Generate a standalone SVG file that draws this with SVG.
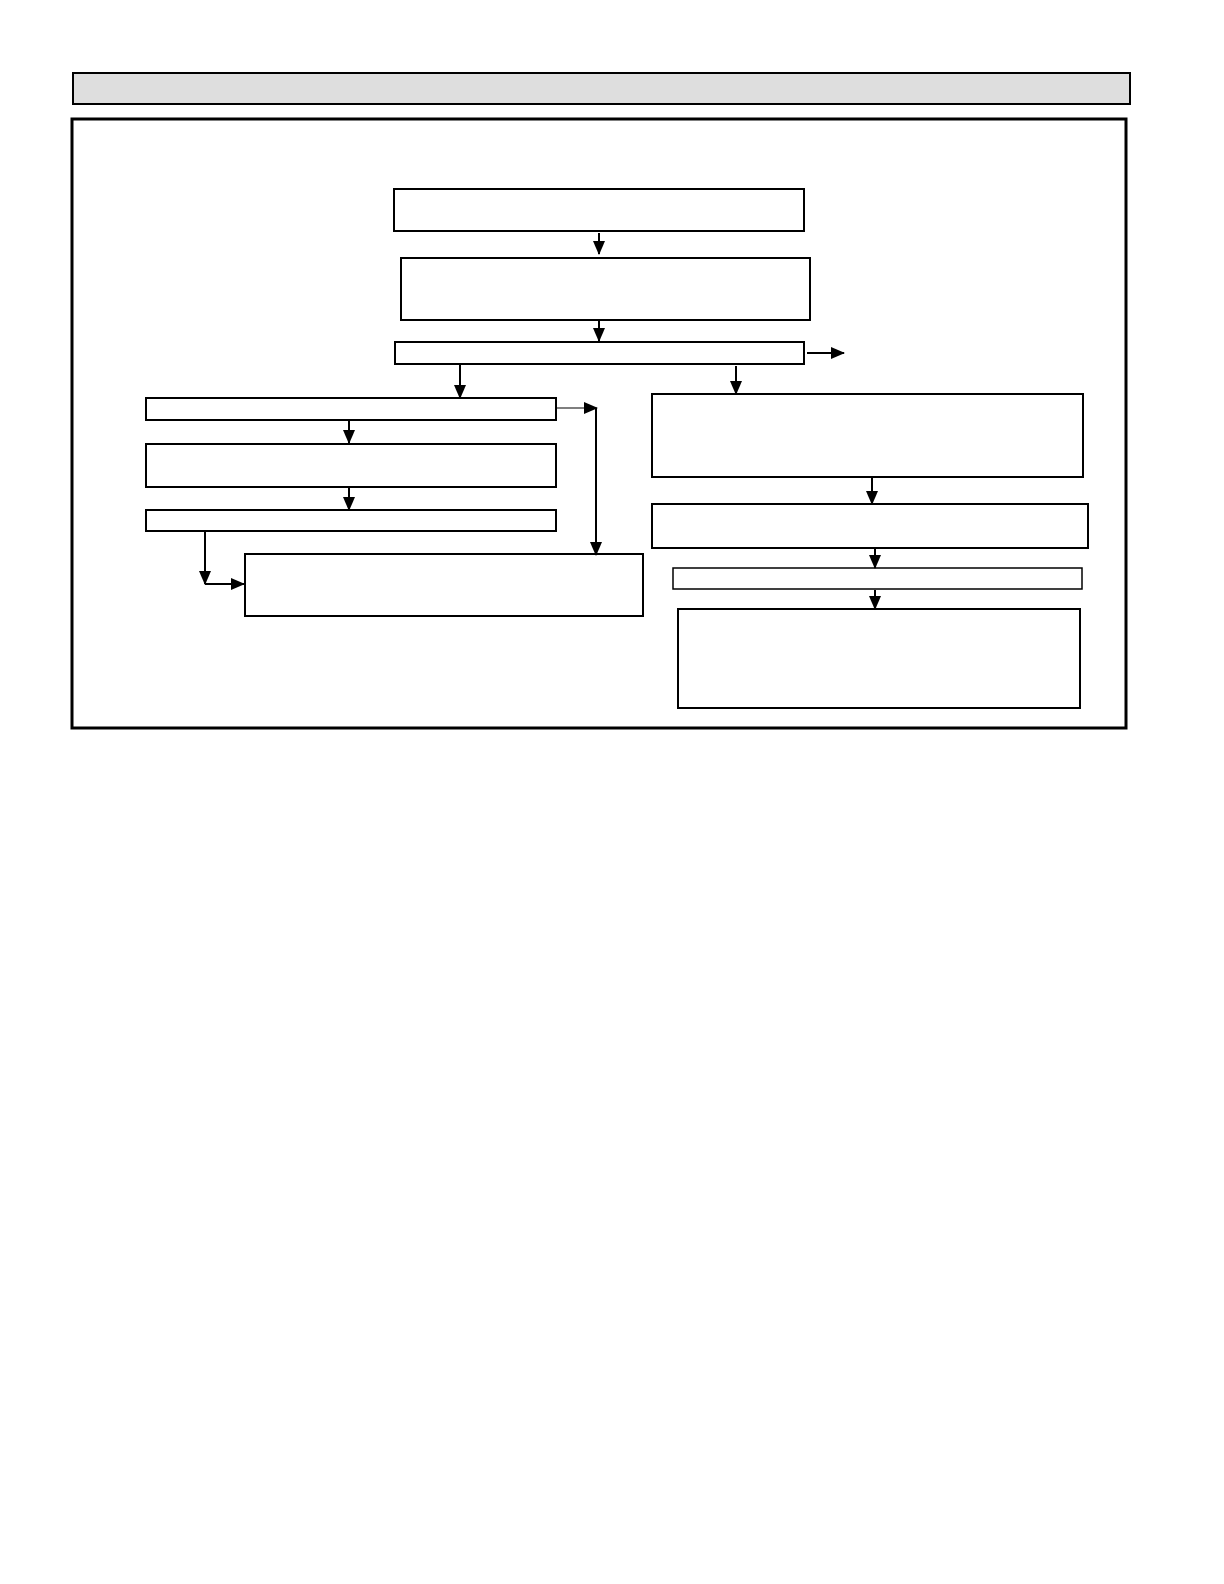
<svg xmlns="http://www.w3.org/2000/svg" width="1224" height="1584" viewBox="0 0 1224 1584">
<style>
.box{fill:#fff;stroke:#000;stroke-width:2}
.thin{fill:#fff;stroke:#000;stroke-width:1.5}
.con{fill:none;stroke:#000;stroke-width:2}
.con1{fill:none;stroke:#000;stroke-width:1.2}
</style>
<defs>
<marker id="ah" markerUnits="userSpaceOnUse" markerWidth="14" markerHeight="12" viewBox="0 0 14 12" refX="13" refY="6" orient="auto">
<path d="M0,0 L14,6 L0,12 Z" fill="#000"/>
</marker>
</defs>
<rect width="1224" height="1584" fill="#fff"/>
<g id="header"><rect x="73" y="73" width="1057" height="31" fill="#dedede" stroke="#000" stroke-width="2"/></g>
<g id="frame"><rect x="72" y="119" width="1054" height="609" fill="none" stroke="#000" stroke-width="3"/></g>
<g id="nodeA"><rect class="box" x="394" y="189" width="410" height="42"/></g>
<g id="nodeB"><rect class="box" x="401" y="258" width="409" height="62"/></g>
<g id="nodeC"><rect class="box" x="395" y="342" width="409" height="22"/></g>
<g id="nodeD"><rect class="box" x="146" y="398" width="410" height="22"/></g>
<g id="nodeE"><rect class="box" x="146" y="444" width="410" height="43"/></g>
<g id="nodeF"><rect class="box" x="146" y="510" width="410" height="21"/></g>
<g id="nodeG"><rect class="box" x="245" y="554" width="398" height="62"/></g>
<g id="nodeH"><rect class="box" x="652" y="394" width="431" height="83"/></g>
<g id="nodeI"><rect class="box" x="652" y="504" width="436" height="44"/></g>
<g id="nodeJ"><rect class="thin" x="673" y="568" width="409" height="21"/></g>
<g id="nodeK"><rect class="box" x="678" y="609" width="402" height="99"/></g>
<g id="connectors">
<path class="con" d="M599,233 V254" marker-end="url(#ah)"/>
<path class="con" d="M599,321 V341" marker-end="url(#ah)"/>
<path class="con" d="M807,353 H844" marker-end="url(#ah)"/>
<path class="con" d="M460,365 V398" marker-end="url(#ah)"/>
<path class="con" d="M736,366 V394" marker-end="url(#ah)"/>
<path class="con" d="M349,421 V443" marker-end="url(#ah)"/>
<path class="con" d="M349,488 V510" marker-end="url(#ah)"/>
<path class="con" d="M205,531 V584" marker-end="url(#ah)"/>
<path class="con" d="M205,584 H244" marker-end="url(#ah)"/>
<path class="con1" d="M556,408 H597" marker-end="url(#ah)"/>
<path class="con" d="M596,408 V555" marker-end="url(#ah)"/>
<path class="con" d="M872,477 V504" marker-end="url(#ah)"/>
<path class="con" d="M875,548 V568" marker-end="url(#ah)"/>
<path class="con" d="M875,590 V609" marker-end="url(#ah)"/>
</g>
</svg>
